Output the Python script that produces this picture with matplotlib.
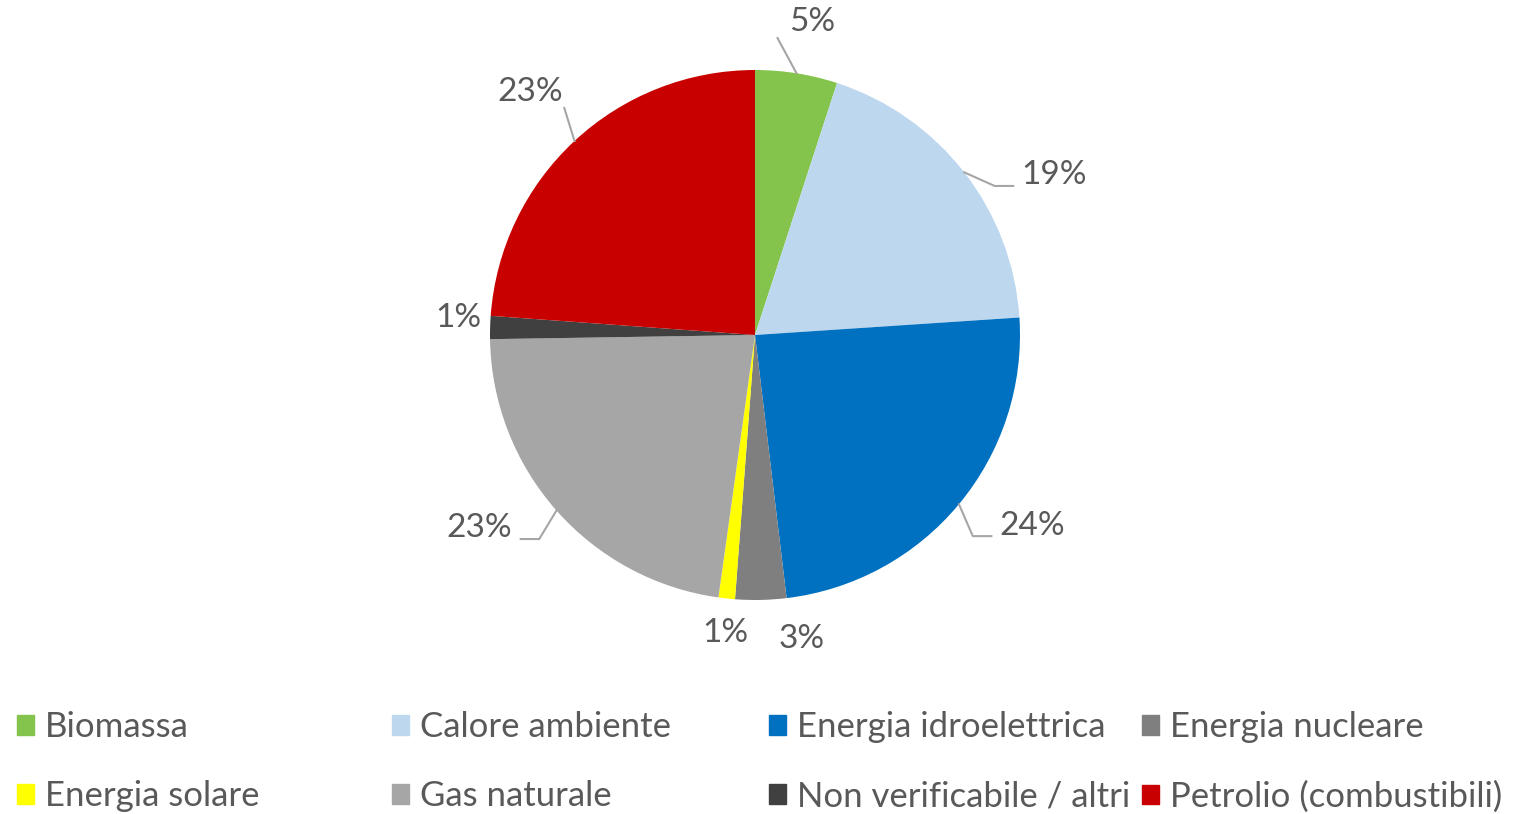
import matplotlib.pyplot as plt
import numpy as np

plt.rcParams['font.family'] = ['Lato', 'DejaVu Sans']

categories = ['Biomassa', 'Calore ambiente', 'Energia idroelettrica', 'Energia nucleare',
              'Energia solare', 'Gas naturale', 'Non verificabile / altri', 'Petrolio (combustibili)']
shares = [5.0, 18.9, 24.1, 3.1, 1.0, 22.5, 1.4, 23.8]
pct_labels = ['5%', '19%', '24%', '3%', '1%', '23%', '1%', '23%']
colors = ['#84C44C', '#BDD7EE', '#0070C0', '#7F7F7F', '#FFFF00', '#A6A6A6', '#404040', '#C80000']

# label placement (distance from centre in radii, angular shift in degrees)
lab_r = [1.20, 1.28, 1.27, 1.16, 1.13, 1.27, 1.12, 1.25]
lab_shift = [-1.3, -9.8, 5.2, 7.5, 0.4, -6.4, -1.7, -0.1]
has_line = [True, True, True, False, False, True, False, True]

txt_col = '#595959'

W, H = 1517, 814
fig = plt.figure(figsize=(W / 100, H / 100), dpi=100)
cx, cy, R = 755, 335, 265
ax = fig.add_axes([(cx - R) / W, (H - cy - R) / H, 2 * R / W, 2 * R / H])

wedges, _ = ax.pie(shares, colors=colors, startangle=90, counterclock=False,
                   wedgeprops=dict(linewidth=0))
ax.set_xlim(-1, 1)
ax.set_ylim(-1, 1)

for i, w in enumerate(wedges):
    mid = np.deg2rad((w.theta1 + w.theta2) / 2)
    a = mid + np.deg2rad(lab_shift[i])
    tx, ty = lab_r[i] * np.cos(a), lab_r[i] * np.sin(a)
    ax.text(tx, ty, pct_labels[i], ha='center', va='center', fontsize=24, color=txt_col)
    if has_line[i]:
        side = 1 if tx > 0 else -1
        ex, ey = np.cos(mid), np.sin(mid)
        if abs(np.cos(mid)) > 0.72:
            tail = (tx - side * 0.155, ty - 0.04)
            elbow = (tail[0] - side * 0.07, tail[1])
            xs = [ex, elbow[0], tail[0]]
            ys = [ey, elbow[1], tail[1]]
        else:
            xs = [ex, tx - side * 0.13]
            ys = [ey, ty - 0.06]
        ax.plot(xs, ys, color='#A6A6A6', lw=1.5, clip_on=False)

# legend: four columns of two rows
col_x = [17, 392, 769, 1142]
for j in range(4):
    idx = [j, j + 4]
    handles = [plt.Rectangle((0, 0), 1, 1, color=colors[k]) for k in idx]
    fig.legend(handles, [categories[k] for k in idx], loc='upper left',
               bbox_to_anchor=(col_x[j] / W, 1 - 711 / H), frameon=False,
               fontsize=25, labelcolor=txt_col, handlelength=0.5, handleheight=0.5,
               handletextpad=0.3, labelspacing=1.08, borderpad=0, borderaxespad=0)

fig.savefig('out.png', dpi=100)
